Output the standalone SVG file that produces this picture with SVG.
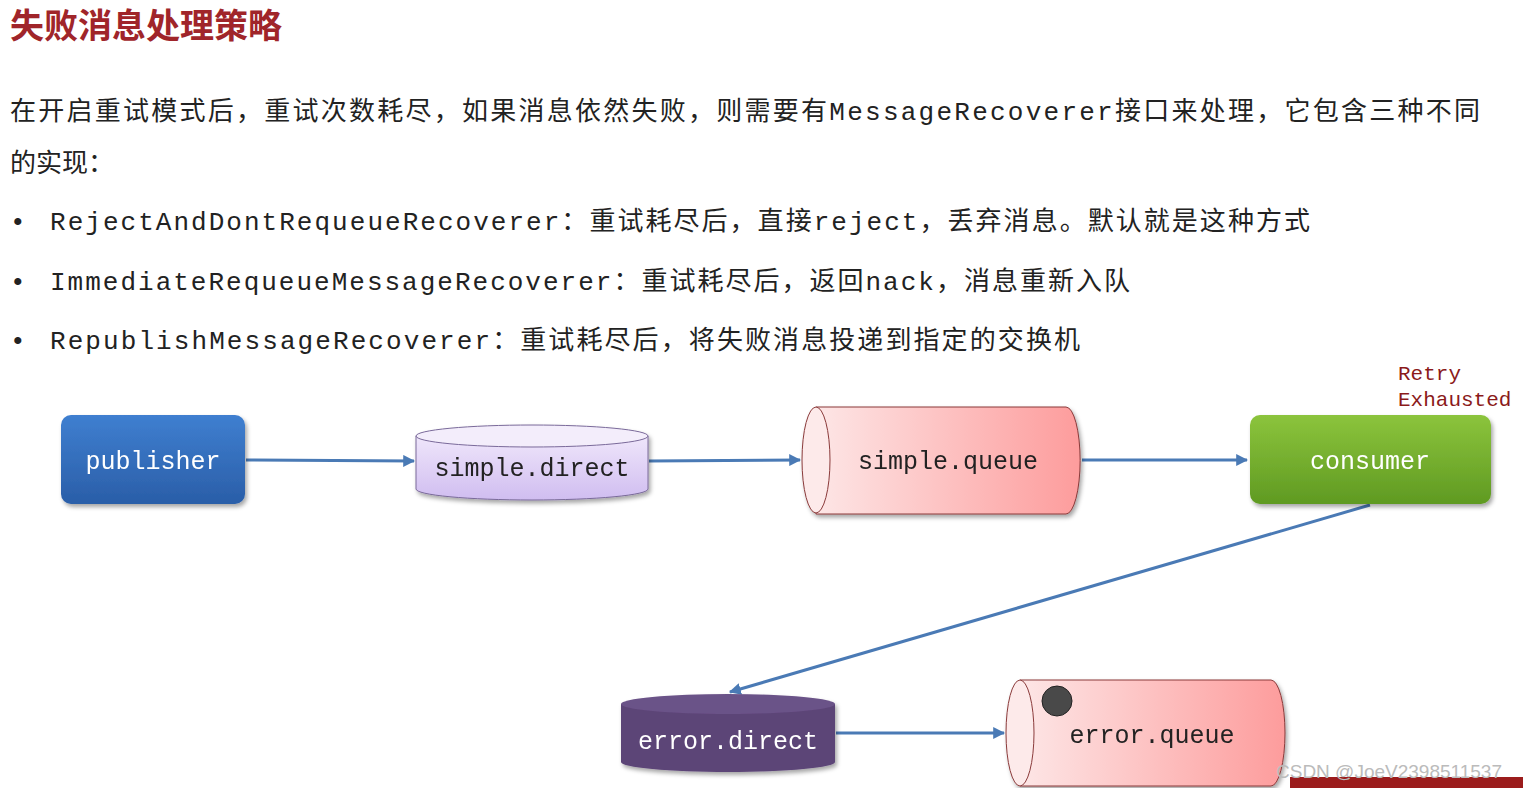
<svg xmlns="http://www.w3.org/2000/svg" width="1523" height="788" viewBox="0 0 1523 788">
<style>
.t{font-family:"Liberation Mono","Noto Sans CJK SC",monospace;font-size:26px;fill:#222}
.h{font-family:"Noto Sans CJK SC",sans-serif;font-size:34px;font-weight:bold;fill:#a0252a}
.n{font-family:"Liberation Mono",monospace;font-size:25px;text-anchor:middle}
.c{stroke:#4a7ab5;stroke-width:3;fill:none;marker-end:url(#a)}
</style>
<defs>
<marker id="a" viewBox="0 0 10 10" refX="9" refY="5" markerWidth="4" markerHeight="4" orient="auto"><path d="M0,0L10,5L0,10z" fill="#4a7ab5"/></marker>
<linearGradient id="blue" x1="0" y1="0" x2="0" y2="1"><stop offset="0" stop-color="#3f7fd0"/><stop offset="1" stop-color="#2a5ea8"/></linearGradient>
<linearGradient id="green" x1="0" y1="0" x2="0" y2="1"><stop offset="0" stop-color="#8cc43c"/><stop offset="1" stop-color="#5f9a22"/></linearGradient>
<linearGradient id="pink" x1="0" y1="0" x2="1" y2="0"><stop offset="0" stop-color="#fde6e6"/><stop offset="1" stop-color="#fd9c9c"/></linearGradient>
<linearGradient id="lav" x1="0" y1="0" x2="0" y2="1"><stop offset="0" stop-color="#efe6fb"/><stop offset="1" stop-color="#d0bdf0"/></linearGradient>
<filter id="s"><feDropShadow dx="2" dy="3" stdDeviation="2" flood-opacity="0.35"/></filter>
</defs>
<rect width="1523" height="788" fill="#fff"/>
<text class="h" x="10" y="38">失败消息处理策略</text>
<text class="t" x="10" y="120" textLength="1470">在开启重试模式后，重试次数耗尽，如果消息依然失败，则需要有MessageRecoverer接口来处理，它包含三种不同</text>
<text class="t" x="10" y="172">的实现：</text>
<text class="t" x="10" y="230">•</text><text class="t" x="50" y="230" textLength="1260">RejectAndDontRequeueRecoverer：重试耗尽后，直接reject，丢弃消息。默认就是这种方式</text>
<text class="t" x="10" y="290">•</text><text class="t" x="50" y="290" textLength="1080">ImmediateRequeueMessageRecoverer：重试耗尽后，返回nack，消息重新入队</text>
<text class="t" x="10" y="349">•</text><text class="t" x="50" y="349" textLength="1030">RepublishMessageRecoverer：重试耗尽后，将失败消息投递到指定的交换机</text>
<g id="connectors">
<line class="c" x1="246" y1="460" x2="414" y2="461"/>
<line class="c" x1="649" y1="461" x2="800" y2="460"/>
<line class="c" x1="1082" y1="460" x2="1247" y2="460"/>
<line class="c" x1="1370" y1="505" x2="730" y2="692"/>
<line class="c" x1="836" y1="733" x2="1004" y2="733"/>
</g>
<g id="publisher" filter="url(#s)"><rect x="61" y="415" width="184" height="89" rx="10" fill="url(#blue)"/><text class="n" x="153" y="469" fill="#fff">publisher</text></g>
<g id="simple.direct" filter="url(#s)"><path d="M416,436V489A116,11 0 0 0 648,489V436Z" fill="url(#lav)" stroke="#7a6a9a"/><ellipse cx="532" cy="436" rx="116" ry="11" fill="#f3edfb" stroke="#7a6a9a"/><text class="n" x="532" y="476" fill="#222">simple.direct</text></g>
<g id="simple.queue" filter="url(#s)"><path d="M816,407H1066A14,53 0 0 1 1066,514H816Z" fill="url(#pink)" stroke="#8a3a3a"/><ellipse cx="816" cy="460" rx="14" ry="53" fill="#fdeaea" stroke="#8a3a3a"/><text class="n" x="948" y="469" fill="#222">simple.queue</text></g>
<g id="consumer" filter="url(#s)"><rect x="1250" y="415" width="241" height="89" rx="10" fill="url(#green)"/><text class="n" x="1370" y="469" fill="#fff">consumer</text></g>
<text font-family="Liberation Mono,monospace" font-size="21" fill="#8b1a1a" x="1398" y="380">Retry</text>
<text font-family="Liberation Mono,monospace" font-size="21" fill="#8b1a1a" x="1398" y="406">Exhausted</text>
<g id="error.direct" filter="url(#s)"><path d="M621,704V762A107,10 0 0 0 835,762V704Z" fill="#5c4477"/><ellipse cx="728" cy="704" rx="107" ry="10" fill="#6b5288"/><text class="n" x="728" y="749" fill="#fff">error.direct</text></g>
<g id="error.queue" filter="url(#s)"><path d="M1020,680H1271A14,53 0 0 1 1271,786H1020Z" fill="url(#pink)" stroke="#8a3a3a"/><ellipse cx="1020" cy="733" rx="14" ry="53" fill="#fdeaea" stroke="#8a3a3a"/><circle cx="1057" cy="701" r="15" fill="#4a4a4a" stroke="#222"/><text class="n" x="1152" y="743" fill="#222">error.queue</text></g>
<rect x="1290" y="777" width="233" height="11" fill="#9b1c1c"/>
<text font-family="Liberation Sans,sans-serif" font-size="19" fill="#bbb" x="1276" y="778">CSDN @JoeV2398511537</text>
</svg>
